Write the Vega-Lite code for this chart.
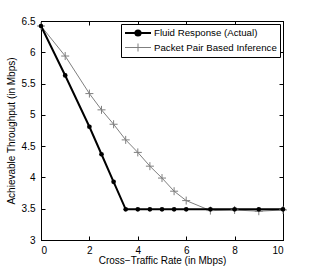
{
  "$schema": "https://vega.github.io/schema/vega-lite/v6.json",
  "width": 242,
  "height": 219,
  "autosize": {"type": "none"},
  "padding": {"left": 41, "top": 21, "right": 30, "bottom": 33},
  "background": "white",
  "config": {
    "view": {"stroke": "black", "strokeWidth": 1},
    "font": "Liberation Sans",
    "axis": {
      "grid": false,
      "domainColor": "black",
      "tickColor": "black",
      "labelColor": "black",
      "titleColor": "black",
      "labelFont": "Liberation Sans",
      "titleFont": "Liberation Sans",
      "labelFontSize": 10,
      "titleFontSize": 10,
      "titleFontWeight": "normal",
      "tickSize": -4
    }
  },
  "data": {
    "values": [
      {"series": "Packet Pair Based Inference", "x": 0, "y": 6.42},
      {"series": "Packet Pair Based Inference", "x": 1, "y": 5.94},
      {"series": "Packet Pair Based Inference", "x": 2, "y": 5.34},
      {"series": "Packet Pair Based Inference", "x": 2.5, "y": 5.08},
      {"series": "Packet Pair Based Inference", "x": 3, "y": 4.85},
      {"series": "Packet Pair Based Inference", "x": 3.5, "y": 4.6},
      {"series": "Packet Pair Based Inference", "x": 4, "y": 4.4},
      {"series": "Packet Pair Based Inference", "x": 4.5, "y": 4.18},
      {"series": "Packet Pair Based Inference", "x": 5, "y": 3.99},
      {"series": "Packet Pair Based Inference", "x": 5.5, "y": 3.78},
      {"series": "Packet Pair Based Inference", "x": 6, "y": 3.63},
      {"series": "Packet Pair Based Inference", "x": 7, "y": 3.47},
      {"series": "Packet Pair Based Inference", "x": 8, "y": 3.48},
      {"series": "Packet Pair Based Inference", "x": 9, "y": 3.46},
      {"series": "Packet Pair Based Inference", "x": 10, "y": 3.48},
      {"series": "Fluid Response (Actual)", "x": 0, "y": 6.42},
      {"series": "Fluid Response (Actual)", "x": 1, "y": 5.63},
      {"series": "Fluid Response (Actual)", "x": 2, "y": 4.81},
      {"series": "Fluid Response (Actual)", "x": 2.5, "y": 4.37},
      {"series": "Fluid Response (Actual)", "x": 3, "y": 3.93},
      {"series": "Fluid Response (Actual)", "x": 3.5, "y": 3.49},
      {"series": "Fluid Response (Actual)", "x": 4, "y": 3.49},
      {"series": "Fluid Response (Actual)", "x": 4.5, "y": 3.49},
      {"series": "Fluid Response (Actual)", "x": 5, "y": 3.49},
      {"series": "Fluid Response (Actual)", "x": 5.5, "y": 3.49},
      {"series": "Fluid Response (Actual)", "x": 6, "y": 3.49},
      {"series": "Fluid Response (Actual)", "x": 7, "y": 3.49},
      {"series": "Fluid Response (Actual)", "x": 8, "y": 3.49},
      {"series": "Fluid Response (Actual)", "x": 9, "y": 3.49},
      {"series": "Fluid Response (Actual)", "x": 10, "y": 3.49}
    ]
  },
  "resolve": {"axis": {"x": "independent", "y": "independent"}},
  "layer": [
    {
      "mark": {"type": "line"},
      "encoding": {
        "x": {"field": "x", "type": "quantitative", "scale": {"domain": [0, 10], "nice": false, "zero": false},
              "axis": {"orient": "bottom", "values": [0, 2, 4, 6, 8, 10], "title": "Cross\u2212Traffic Rate (in Mbps)", "labelPadding": 9, "titlePadding": 0}},
        "y": {"field": "y", "type": "quantitative", "scale": {"domain": [3, 6.5], "nice": false, "zero": false},
              "axis": {"orient": "left", "values": [3, 3.5, 4, 4.5, 5, 5.5, 6, 6.5], "format": "~r", "title": "Achievable Throughput (in Mbps)", "labelPadding": 10, "titlePadding": 5}},
        "color": {
          "field": "series", "type": "nominal",
          "scale": {"domain": ["Fluid Response (Actual)", "Packet Pair Based Inference"], "range": ["black", "#7f7f7f"]},
          "legend": {
            "orient": "none", "legendX": 80, "legendY": 3, "title": null,
            "strokeColor": "black", "fillColor": "white", "padding": 3,
            "symbolSize": 100, "labelFontSize": 9.7, "labelFont": "Liberation Sans", "labelColor": "black",
            "labelOffset": 18, "rowPadding": 1,
            "encode": {
              "symbols": {
                "update": {
                  "shape": {"signal": "datum.value === 'Fluid Response (Actual)' ? 'M-1,0H4.2M1.08,0A0.52,0.52,0,1,1,2.12,0A0.52,0.52,0,1,1,1.08,0Z' : 'M-1,0H4.2M1.6,-0.8V0.8'"},
                  "strokeWidth": {"signal": "datum.value === 'Fluid Response (Actual)' ? 2 : 1"},
                  "fill": {"signal": "datum.value === 'Fluid Response (Actual)' ? 'black' : 'transparent'"},
                  "stroke": {"signal": "datum.value === 'Fluid Response (Actual)' ? 'black' : '#7f7f7f'"},
                  "opacity": {"value": 1}
                }
              }
            }
          }
        },
        "strokeWidth": {"field": "series", "type": "nominal", "scale": {"domain": ["Fluid Response (Actual)", "Packet Pair Based Inference"], "range": [2, 1]}, "legend": null}
      }
    },
    {
      "transform": [{"filter": "datum.series === 'Packet Pair Based Inference'"}],
      "mark": {"type": "point", "shape": "M-1,0H1M0,-1V1", "filled": false, "stroke": "#7f7f7f", "strokeWidth": 1, "size": 64, "opacity": 1},
      "encoding": {
        "x": {"field": "x", "type": "quantitative", "axis": {"orient": "top", "values": [0, 2, 4, 6, 8, 10], "labels": false, "title": null}},
        "y": {"field": "y", "type": "quantitative", "axis": {"orient": "right", "values": [3, 3.5, 4, 4.5, 5, 5.5, 6, 6.5], "labels": false, "title": null}}
      }
    },
    {
      "transform": [{"filter": "datum.series === 'Fluid Response (Actual)'"}],
      "mark": {"type": "point", "shape": "circle", "filled": true, "fill": "black", "size": 22, "opacity": 1},
      "encoding": {
        "x": {"field": "x", "type": "quantitative", "axis": null},
        "y": {"field": "y", "type": "quantitative", "axis": null}
      }
    }
  ]
}
